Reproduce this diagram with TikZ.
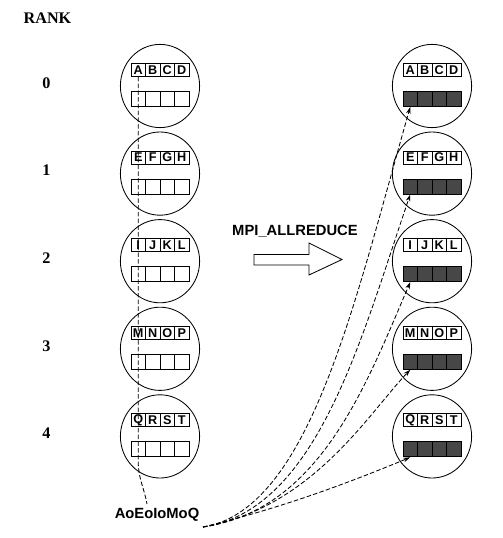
\documentclass[tikz,border=0pt]{standalone}
\usepackage{fontspec}
\setmainfont{Liberation Serif}
\setsansfont{Liberation Sans}
\usetikzlibrary{arrows.meta,shapes.geometric}
\tikzset{
  proc/.style={draw,ellipse,minimum width=1.98cm,minimum height=2.08cm,inner sep=0pt,line width=0.6pt},
  cell/.style={draw,minimum width=0.3625cm,minimum height=0.325cm,inner sep=0pt,line width=0.6pt,
    font=\sffamily\bfseries\fontsize{9}{9}\selectfont},
  rcell/.style={draw,minimum width=0.3625cm,minimum height=0.375cm,inner sep=0pt,line width=0.6pt},
  ranklbl/.style={font=\rmfamily\bfseries\fontsize{11.5}{12}\selectfont},
  dashline/.style={line width=0.6pt,dash pattern=on 3.2pt off 1.6pt},
}
\begin{document}
\begin{tikzpicture}[x=0.025cm,y=-0.025cm]
\useasboundingbox (0,0) rectangle (502,538);
\node[ranklbl] (rank) at (47.5,18.5) {RANK};
% ranks, each with its send buffer (top) and receive buffer (bottom)
\foreach \i/\la/\lb/\lc/\ld in {0/A/B/C/D,1/E/F/G/H,2/I/J/K/L,3/M/N/O/P,4/Q/R/S/T} {
  \pgfmathsetmacro\cy{86+87.6*\i}
  \node[ranklbl] (r\i) at (46.5,\cy-3) {\i};
  \node[proc] (p\i) at (160,\cy) {};
  \node[proc] (q\i) at (432,\cy) {};
  \foreach \c [count=\j] in {\la,\lb,\lc,\ld} {
    \node[cell] (lt\i\j) at (160-36.25+14.5*\j,\cy-16) {\c};
    \node[cell] (rt\i\j) at (432-36.25+14.5*\j,\cy-16) {\c};
    \node[rcell] (lb\i\j) at (160-36.25+14.5*\j,\cy+13) {};
    \node[rcell,fill=black!72] (rb\i\j) at (432-36.25+14.5*\j,\cy+13) {};
  }
}
% the operation
\node[font=\sffamily\bfseries\fontsize{10.5}{11}\selectfont] (op) at (295,231) {MPI\_ALLREDUCE};
\draw[line width=0.6pt] (254,254.5) -- (309,254.5) -- (309,243) -- (342,259.5) -- (309,275)
  -- (309,265) -- (254,265) -- cycle;
% reduction of the first elements
\node[font=\sffamily\bfseries\fontsize{10.5}{11}\selectfont] (sum) at (157,515) {AoEoIoMoQ};
\coordinate (sumtop) at (147,504);
\coordinate (fan) at (203,527);
\draw[dashline] (lt01.south) -- ++(0,385) to[out=-90,in=100] (sumtop);
\foreach \i/\ax/\ay/\bx/\by in {0/310/510/355/300,1/318/510/362/335,2/320/510/366/385,
                                  3/312/508/368/414,4/290/506/360/478}
  \draw[dashline,-{Stealth[length=5pt,width=3.2pt]}] (fan)
    .. controls (\ax,\ay) and (\bx,\by) .. (rb\i1.south);
\end{tikzpicture}
\end{document}
